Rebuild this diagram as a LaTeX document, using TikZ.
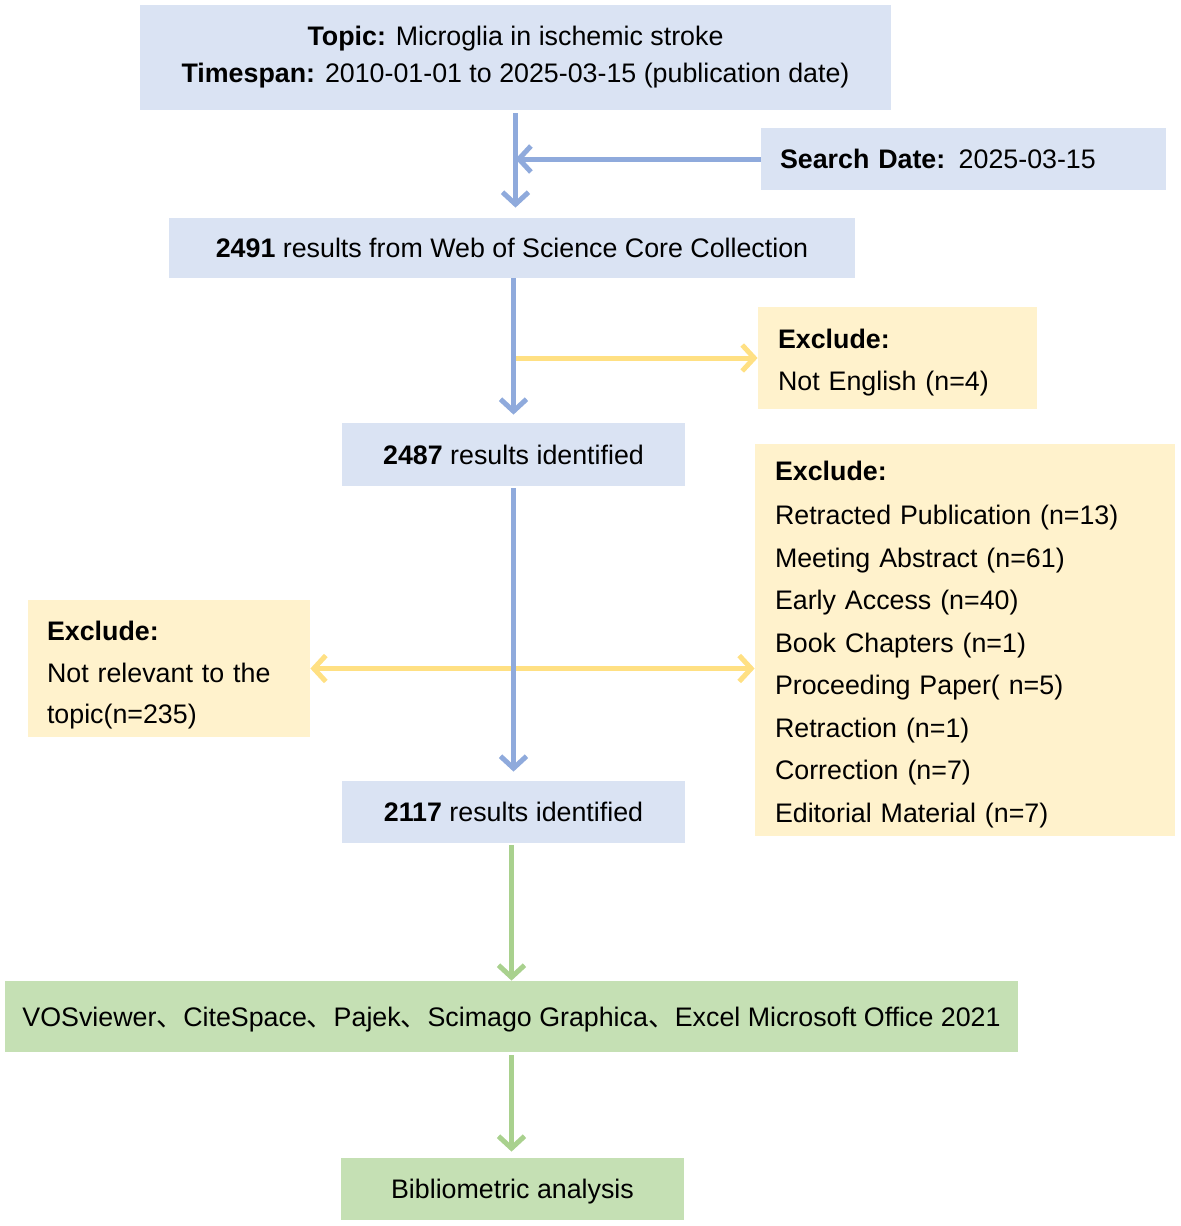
\documentclass[tikz,border=0pt]{standalone}
\usepackage{fontspec}
\setmainfont{Liberation Sans}
\newfontfamily\cjk{Noto Sans CJK SC}
\usetikzlibrary{arrows.meta}
\definecolor{fillblue}{HTML}{DAE3F3}
\definecolor{fillyellow}{HTML}{FFF2CC}
\definecolor{fillgreen}{HTML}{C5E0B4}
\definecolor{lineblue}{HTML}{8FAADC}
\definecolor{lineyellow}{HTML}{FFE083}
\definecolor{linegreen}{HTML}{A9D18E}
\newcommand{\dun}{{\cjk 、}}
\begin{document}
\begin{tikzpicture}[x=0.5pt,y=-0.5pt,
        box/.style = {inner sep=0pt, font=\fontsize{13.4}{18.5}\selectfont},
        oneline/.style = {text depth=0pt},
        bluebox/.style = {box, fill=fillblue},
        yellowbox/.style = {box, fill=fillyellow, align=left, font=\fontsize{13.4}{21}\selectfont},
        greenbox/.style = {box, oneline, fill=fillgreen},
        flow/.style = {line width=2.5pt, -{Straight Barb[length=6pt,width=13pt]}},
        bluearrow/.style = {flow, draw=lineblue},
        yellowarrow/.style = {flow, draw=lineyellow},
        greenarrow/.style = {flow, draw=linegreen}]
        \useasboundingbox (0,0) rectangle (1181,1226);
        \node[bluebox, minimum width=375.5pt, minimum height=52.5pt, align=center] (topic) at (515.5,57.5) {\textbf{Topic:} Microglia in ischemic stroke\\\textbf{Timespan:} 2010-01-01 to 2025-03-15 (publication date)};
        \node[bluebox, oneline, minimum height=31pt, inner xsep=9.5pt, text width=183.5pt, align=left] (search) at (963.5,159) {\textbf{Search Date:} 2025-03-15};
        \node[bluebox, oneline, minimum width=343pt, minimum height=30pt] (r2491) at (512,248) {\textbf{2491} results from Web of Science Core Collection};
        \node[yellowbox, minimum height=51pt, inner xsep=10pt, text width=119.5pt] (notenglish) at (897.5,358) {\rule{0pt}{14.6pt}\textbf{Exclude:}\\Not English (n=4)};
        \node[bluebox, oneline, minimum width=171.5pt, minimum height=31.5pt] (r2487) at (513.5,454.5) {\textbf{2487} results identified};
        \node[yellowbox, minimum height=196pt, inner xsep=10pt, text width=190pt, font=\fontsize{13.4}{21.25}\selectfont] (doctype) at (965,640) {\rule{0pt}{14.2pt}\textbf{Exclude:}\\[1pt]Retracted Publication (n=13)\\Meeting Abstract (n=61)\\Early Access (n=40)\\Book Chapters (n=1)\\Proceeding Paper( n=5)\\Retraction (n=1)\\Correction (n=7)\\Editorial Material (n=7)};
        \node[yellowbox, minimum height=68.5pt, inner xsep=9.5pt, text width=122pt, font=\fontsize{13.4}{20.75}\selectfont] (offtopic) at (169,668.5) {\rule{0pt}{16.6pt}\textbf{Exclude:}\\Not relevant to the\\topic(n=235)};
        \node[bluebox, oneline, minimum width=171.5pt, minimum height=31pt] (r2117) at (513.5,812) {\textbf{2117} results identified};
        \node[greenbox, minimum width=506.5pt, minimum height=35.5pt] (tools) at (511.5,1016.5) {VOSviewer\dun CiteSpace\dun Pajek\dun Scimago Graphica\dun Excel Microsoft Office 2021};
        \node[greenbox, minimum width=171.5pt, minimum height=31pt] (biblio) at (512.5,1189) {Bibliometric analysis};
        \coordinate (join) at (topic.south |- search.west);
        \coordinate (split1) at (r2487.north |- notenglish.west);
        \coordinate (split2) at (r2487.south |- offtopic.east);
        \draw[yellowarrow] (split1) -> (notenglish.west);
        \draw[yellowarrow] (split2) -> (offtopic.east);
        \draw[yellowarrow] (split2) -> (split2 -| doctype.west);
        \draw[bluearrow, shorten <=1.5pt, shorten >=5pt] (topic.south) -> (topic.south |- r2491.north);
        \draw[bluearrow] (search.west) -> (join);
        \draw[bluearrow, shorten >=4pt] (r2491.south -| r2487.north) -> (r2487.north);
        \draw[bluearrow, shorten <=1pt, shorten >=4.5pt] (r2487.south) -> (r2117.north);
        \draw[greenarrow, shorten <=1pt] (tools.north |- r2117.south) -> (tools.north);
        \draw[greenarrow, shorten <=1.5pt, shorten >=3pt] (tools.south) -> (tools.south |- biblio.north);
\end{tikzpicture}
\end{document}
